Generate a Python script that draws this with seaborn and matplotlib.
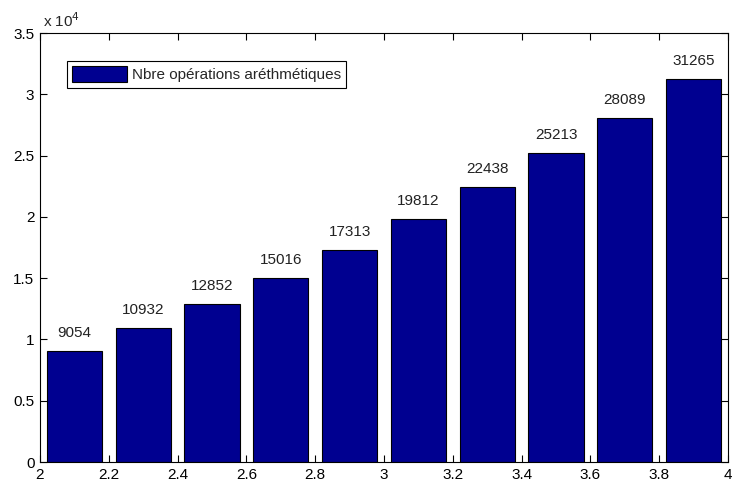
import numpy as np
import pandas as pd
import seaborn as sns
import matplotlib.pyplot as plt

x_vals = [2.1, 2.3, 2.5, 2.7, 2.9, 3.1, 3.3, 3.5, 3.7, 3.9]
operations = [9054, 10932, 12852, 15016, 17313, 19812, 22438, 25213, 28089, 31265]
y_ticks = [0, 5000, 10000, 15000, 20000, 25000, 30000, 35000]
y_tick_labels = ['0', '0.5', '1', '1.5', '2', '2.5', '3', '3.5']
x_ticks = [2, 2.2, 2.4, 2.6, 2.8, 3, 3.2, 3.4, 3.6, 3.8, 4]
x_tick_labels = ['2', '2.2', '2.4', '2.6', '2.8', '3', '3.2', '3.4', '3.6', '3.8', '4']
legend_label = 'Nbre opérations aréthmétiques'

df = pd.DataFrame({'x': x_vals, 'ops': operations})

sns.set_style('white')
plt.rcParams['font.family'] = ['Liberation Sans', 'DejaVu Sans']

fig = plt.figure(figsize=(7.32, 4.82), dpi=100)
ax = fig.add_axes([40 / 732, 1 - 462 / 482, 688 / 732, 429 / 482])

sns.barplot(data=df, x='x', y='ops', native_scale=True, width=0.8,
            color='#000090', saturation=1, edgecolor='black', linewidth=0.8,
            label=legend_label, ax=ax)

for xv, v in zip(x_vals, operations):
    ax.annotate(str(v), (xv, v), xytext=(0, 8), textcoords='offset points',
                ha='center', va='bottom', fontsize=11, color='#222222')

ax.set_xlim(2, 4)
ax.set_ylim(0, 35000)
ax.set_xticks(x_ticks)
ax.set_xticklabels(x_tick_labels)
ax.set_yticks(y_ticks)
ax.set_yticklabels(y_tick_labels)
ax.set_xlabel('')
ax.set_ylabel('')
ax.tick_params(direction='in', length=5, width=0.8, labelsize=11, colors='black',
               top=True, right=True, bottom=True, left=True, pad=4)
for s in ax.spines.values():
    s.set_visible(True)
    s.set_color('black')
    s.set_linewidth(0.8)

ax.text(0.005, 1.008, r'x 10$^4$', transform=ax.transAxes, fontsize=11,
        ha='left', va='bottom')

leg = ax.legend(loc='upper left', bbox_to_anchor=(0.039, 0.935), fontsize=11,
                handlelength=3.6, handleheight=1.2, fancybox=False,
                framealpha=1, edgecolor='black', borderpad=0.35,
                handletextpad=0.3, borderaxespad=0)
leg.get_frame().set_linewidth(0.8)

fig.savefig('out.png', dpi=100)
